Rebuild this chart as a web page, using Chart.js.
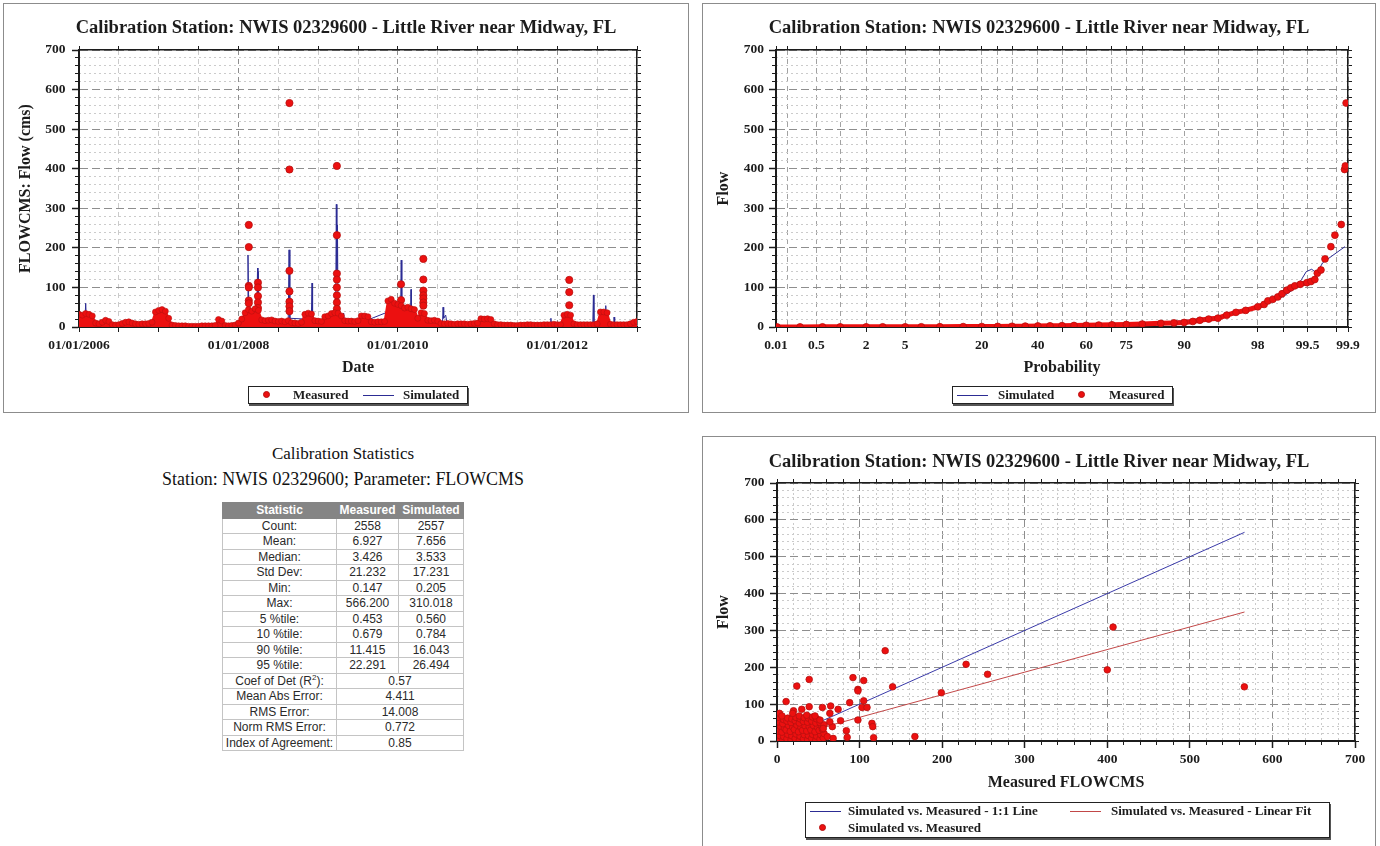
<!DOCTYPE html>
<html>
<head>
<meta charset="utf-8">
<title>Calibration Station: NWIS 02329600 - Little River near Midway, FL</title>
<script src="https://cdn.jsdelivr.net/npm/chart.js@4.4.1/dist/chart.umd.min.js"></script>
<style>
  html, body { margin: 0; padding: 0; background: #fff; width: 1380px; height: 846px; overflow: hidden; }
  .panel { position: absolute; border: 1px solid #8c8c8c; box-sizing: border-box; background: #fff; }
  .panel canvas { position: absolute; left: 0; top: 0; }
  .legend { position: absolute; border: 1px solid #222; box-shadow: 1px 2px 0 #555; background: #fff;
            box-sizing: border-box; font: bold 13px "Liberation Serif", "Times New Roman", serif; color: #1c1c1c; }
  .legend span { position: absolute; white-space: nowrap; line-height: 16px; }
  .legend .dot { width: 7px; height: 7px; border-radius: 50%; background: #ec1010; box-sizing: border-box; border: 1px solid #b8100f; }
  .legend .ln { height: 0; border-top: 1px solid #2c2c94; }
  .legend .ln.red { border-top-color: #c24848; }
  .stitle { position: absolute; left: 143px; width: 400px; text-align: center;
            font-family: "Liberation Serif", "Times New Roman", serif; line-height: 20px; color: #111; }
  #stats { position: absolute; left: 222px; top: 502px; width: 241px; border-collapse: collapse; table-layout: fixed;
           font: 12px "Liberation Sans", Arial, sans-serif; color: #2a2a2a; }
  #stats td, #stats th { border: 1px solid #c4c4c4; padding: 0; text-align: center; white-space: nowrap; line-height: 14px; }
  #stats tr { height: 15.5px; }
  #stats th { background: #858585; color: #fff; font-weight: bold; border-color: #858585; }
  #stats sup { font-size: 8px; line-height: 0; }
</style>
</head>
<body>

<div class="panel" style="left:3px;top:3px;width:686px;height:410px"><canvas id="tsChart" width="684" height="408"></canvas></div>
<div class="panel" style="left:702px;top:3px;width:674px;height:410px"><canvas id="probChart" width="672" height="408"></canvas></div>
<div class="panel" style="left:702px;top:436px;width:674px;height:420px"><canvas id="scatChart" width="672" height="408"></canvas></div>

<div class="legend" style="left:248px;top:386px;width:220px;height:18px">
  <span class="dot" style="left:14px;top:4px"></span><span style="left:44px;top:0">Measured</span>
  <span class="ln" style="left:114px;top:8px;width:31px"></span><span style="left:154px;top:0">Simulated</span>
</div>
<div class="legend" style="left:952px;top:386px;width:221px;height:18px">
  <span class="ln" style="left:4px;top:8px;width:31px"></span><span style="left:45px;top:0">Simulated</span>
  <span class="dot" style="left:125px;top:4px"></span><span style="left:156px;top:0">Measured</span>
</div>
<div class="legend" style="left:805px;top:802px;width:525px;height:36px">
  <span class="ln" style="left:4px;top:8px;width:31px"></span><span style="left:42px;top:0">Simulated vs. Measured - 1:1 Line</span>
  <span class="ln red" style="left:264px;top:8px;width:31px"></span><span style="left:305px;top:0">Simulated vs. Measured - Linear Fit</span>
  <span class="dot" style="left:13px;top:21px"></span><span style="left:42px;top:17px">Simulated vs. Measured</span>
</div>

<div class="stitle" style="top:444px;font-size:17px">Calibration Statistics</div>
<div class="stitle" style="top:469px;font-size:17.9px">Station: NWIS 02329600; Parameter: FLOWCMS</div>
<table id="stats">
  <colgroup><col style="width:114px"><col style="width:62px"><col style="width:65px"></colgroup>
  <thead><tr><th>Statistic</th><th>Measured</th><th>Simulated</th></tr></thead>
  <tbody></tbody>
</table>

<script>
// ---- time series: measured flow, semi-monthly from 01/01/2006 (cms) ----
const bandStartYear = 2006;
const bandPerYear = 24;
const measBand = [
  32, 30, 34, 32, 28, 10, 8, 12, 17, 14, 6, 5, 6, 9, 12, 13, 10, 8, 7, 8, 8, 9, 12, 38,     // 2006
  42, 44, 40, 22, 5, 4, 3, 3, 3, 2, 2, 2, 2, 3, 3, 3, 3, 4, 19, 15, 4, 3, 4, 5,             // 2007
  10, 20, 36, 44, 40, 46, 42, 18, 16, 17, 18, 15, 14, 15, 13, 16, 11, 10, 9, 12, 32, 35, 33, 16, // 2008
  15, 14, 26, 28, 34, 36, 35, 28, 16, 15, 15, 14, 16, 28, 28, 26, 13, 12, 13, 13, 14, 66, 70, 60, // 2009
  57, 54, 48, 50, 46, 44, 22, 36, 34, 17, 16, 17, 15, 9, 8, 9, 8, 7, 8, 8, 8, 7, 8, 9,      // 2010
  10, 21, 20, 21, 19, 8, 6, 6, 5, 5, 5, 4, 4, 5, 5, 6, 6, 5, 5, 5, 6, 6, 6, 7,              // 2011
  6, 6, 30, 32, 30, 8, 6, 6, 6, 6, 6, 6, 8, 38, 38, 36, 7, 6, 6, 6, 6, 6, 8, 12,            // 2012
  14                                                                                        // 2013
];
// storm days that stand out above the band
const measPeakYear = [2008.13, 2008.13, 2008.13, 2008.13, 2008.13, 2008.13,
  2008.245, 2008.245, 2008.245, 2008.245, 2008.245,
  2008.64, 2008.64, 2008.64, 2008.64, 2008.64, 2008.64, 2008.64,
  2009.235, 2009.235, 2009.235, 2009.235, 2009.235, 2009.235, 2009.235, 2009.235,
  2010.04, 2010.04,
  2010.32, 2010.32, 2010.32, 2010.32, 2010.32, 2010.32, 2010.32,
  2012.15, 2012.15, 2012.15];
const measPeakFlow = [258, 202, 104, 100, 67, 60,
  112, 100, 78, 62, 48,
  566, 398, 142, 90, 64, 52, 40,
  407, 232, 135, 120, 100, 80, 62, 46,
  108, 68,
  172, 120, 92, 80, 72, 62, 54,
  119, 88, 55];
const simYear = [2006.0, 2006.075, 2006.084, 2006.093, 2006.2, 2006.5, 2006.95, 2007.0, 2007.08, 2007.15,
  2007.7, 2008.0, 2008.11, 2008.12, 2008.13, 2008.23, 2008.24, 2008.245, 2008.25, 2008.26,
  2008.4, 2008.625, 2008.635, 2008.645, 2008.85, 2008.915, 2008.923, 2008.93, 2009.1, 2009.22,
  2009.228, 2009.235, 2009.242, 2009.25, 2009.31, 2009.32, 2009.33, 2009.5, 2009.9, 2010.035,
  2010.042, 2010.05, 2010.16, 2010.165, 2010.17, 2010.4, 2010.56, 2010.567, 2010.575, 2010.6,
  2010.62, 2011.1, 2011.915, 2011.92, 2011.925, 2012.1, 2012.445, 2012.453, 2012.46, 2012.6,
  2012.608, 2012.615, 2012.71, 2012.712, 2012.72, 2013.0];
const simFlow = [18, 20, 60, 20, 6, 4, 6, 30, 30, 3,
  2, 6, 30, 182, 40, 35, 149, 60, 140, 25,
  10, 20, 195, 22, 20, 25, 111, 22, 15, 40,
  310, 120, 258, 40, 12, 35, 12, 8, 40, 45,
  169, 40, 35, 95, 35, 8, 8, 50, 22, 30,
  5, 10, 4, 22, 4, 15, 5, 81, 5, 15,
  54, 15, 8, 25, 6, 6];
const dateGridYears = [2006, 2006.5, 2007, 2007.5, 2008, 2008.5, 2009, 2009.5, 2010, 2010.5, 2011, 2011.5, 2012, 2012.5, 2013];
const dateLabelYears = [2006, 2008, 2010, 2012];

// ---- flow duration: exceedance probability (%) vs flow ----
const measProbPct = [0.14, 0.3, 0.6, 1, 2, 3, 5, 7, 10, 15, 20, 25, 30, 35, 40, 45, 50, 55, 60, 65,
  70, 75, 80, 85, 88, 90, 91.5, 92.6, 93.8, 94.9, 95.8, 96.6, 97.3, 98, 98.3, 98.46, 98.65, 98.82, 98.95, 99.08,
  99.18, 99.27, 99.38, 99.49, 99.55, 99.6, 99.63, 99.67, 99.71, 99.76, 99.79, 99.83, 99.848, 99.852, 99.856];
const measProbFlow = [0.15, 0.25, 0.32, 0.38, 0.42, 0.44, 0.45, 0.55, 0.68, 0.95, 1.2, 1.5, 1.8, 2.2, 2.6, 3.0, 3.4, 3.8, 4.3, 4.9,
  5.5, 6.3, 7.5, 9.2, 10.3, 11.4, 14, 17, 20, 22.3, 30, 37, 42, 51, 57, 66, 70, 76, 84, 93,
  99, 104, 108, 112, 115, 120, 136, 144, 172, 203, 232, 259, 398, 407, 566];
const simProbPct = [0.14, 1, 5, 10, 20, 30, 40, 50, 60, 70, 80, 90, 95, 97, 98, 99, 99.3, 99.4, 99.48, 99.56, 99.62, 99.69, 99.85];
const simProbFlow = [0.2, 0.36, 0.56, 0.78, 1.3, 2.0, 2.7, 3.5, 4.6, 6.2, 9, 16, 26.5, 38, 48, 78, 100, 120, 140, 146, 136, 163, 203];
const probAxisMin = 0.135;
const probAxisMax = 99.865;
const probMajorPct = [0.135, 0.5, 2, 5, 20, 40, 60, 75, 90, 98, 99.5, 99.865];
const probMajorText = ['0.01', '0.5', '2', '5', '20', '40', '60', '75', '90', '98', '99.5', '99.9'];
const probMinorPct = [0.2, 1, 10, 25, 30, 50, 70, 80, 95, 99, 99.8];
const probDenseUpTo = 99.6;

// ---- simulated vs measured pairs (cms) ----
const scatterPairs = [
  [1, 4], [3, 15], [1, 27], [4, 40], [2, 52], [1, 64], [3, 75], [7, 2], [8, 12], [6, 24], [9, 35], [7, 47], [8, 58], [6, 68],
  [12, 6], [13, 18], [11, 30], [14, 42], [12, 54], [13, 62], [17, 3], [18, 14], [16, 26], [19, 38], [17, 50], [18, 60],
  [22, 7], [23, 19], [21, 31], [24, 43], [22, 55], [23, 64], [27, 2], [28, 13], [26, 25], [29, 37], [27, 49], [28, 60], [27, 68],
  [32, 6], [33, 17], [31, 29], [34, 41], [32, 53], [33, 63], [37, 3], [38, 15], [36, 27], [39, 39], [37, 51], [38, 62], [36, 70],
  [42, 7], [43, 18], [41, 30], [44, 42], [42, 54], [43, 65], [47, 2], [48, 13], [46, 25], [49, 37], [47, 49], [48, 60],
  [52, 5], [53, 17], [51, 29], [54, 40], [52, 50], [56, 8], [57, 20], [55, 32], [57, 44], [46, 68],
  [131, 245], [229, 208], [255, 181], [199, 131], [140, 147], [167, 12], [407, 309], [400, 193], [566, 147],
  [39, 167], [24, 149], [92, 172], [105, 164], [98, 140], [98, 136], [11, 107], [88, 104], [105, 109],
  [103, 91], [109, 91], [65, 95], [55, 91], [74, 86], [64, 75], [39, 93], [30, 86], [20, 82], [19, 75],
  [77, 55], [98, 57], [115, 48], [116, 39], [117, 9], [84, 28], [85, 10], [67, 39], [64, 52], [61, 12],
  [68, 7], [56, 34], [52, 57]
];
const oneToOne = [[0, 0], [566.2, 566.2]];
const linearFit = [[0, 3], [566.2, 350]];

const flowMajorTicks = [0, 100, 200, 300, 400, 500, 600, 700];
const flowMinorTicks = [0, 20, 40, 60, 80, 100, 120, 140, 160, 180, 200, 220, 240, 260, 280, 300, 320, 340,
  360, 380, 400, 420, 440, 460, 480, 500, 520, 540, 560, 580, 600, 620, 640, 660, 680, 700];

// ---- statistics table ----
const statNames = ['Count:', 'Mean:', 'Median:', 'Std Dev:', 'Min:', 'Max:', '5 %tile:', '10 %tile:', '90 %tile:', '95 %tile:'];
const statMeasured = ['2558', '6.927', '3.426', '21.232', '0.147', '566.200', '0.453', '0.679', '11.415', '22.291'];
const statSimulated = ['2557', '7.656', '3.533', '17.231', '0.205', '310.018', '0.560', '0.784', '16.043', '26.494'];
const fitNames = ['Coef of Det (R<sup>2</sup>):', 'Mean Abs Error:', 'RMS Error:', 'Norm RMS Error:', 'Index of Agreement:'];
const fitValues = ['0.57', '4.411', '14.008', '0.772', '0.85'];

const tbody = document.querySelector('#stats tbody');
statNames.forEach((name, i) => {
  tbody.insertAdjacentHTML('beforeend', '<tr><td>' + name + '</td><td>' + statMeasured[i] + '</td><td>' + statSimulated[i] + '</td></tr>');
});
fitNames.forEach((name, i) => {
  tbody.insertAdjacentHTML('beforeend', '<tr><td>' + name + '</td><td colspan="2">' + fitValues[i] + '</td></tr>');
});

// inverse standard normal (Acklam), used to place points on the probability axis
function probit(p) {
  const a = [-39.69683028665376, 220.9460984245205, -275.9285104469687, 138.3577518672690, -30.66479806614716, 2.506628277459239];
  const b = [-54.47609879822406, 161.5858368580409, -155.6989798598866, 66.80131188771972, -13.28068155288572];
  const c = [-0.007784894002430293, -0.3223964580411365, -2.400758277161838, -2.549732539343734, 4.374664141464968, 2.938163982698783];
  const d = [0.007784695709041462, 0.3224671290700398, 2.445134137142996, 3.754408661907416];
  const tail = q => (((((c[0] * q + c[1]) * q + c[2]) * q + c[3]) * q + c[4]) * q + c[5]) / ((((d[0] * q + d[1]) * q + d[2]) * q + d[3]) * q + 1);
  if (p < 0.02425) return tail(Math.sqrt(-2 * Math.log(p)));
  if (p > 1 - 0.02425) return -tail(Math.sqrt(-2 * Math.log(1 - p)));
  const q = p - 0.5, r = q * q;
  return (((((a[0] * r + a[1]) * r + a[2]) * r + a[3]) * r + a[4]) * r + a[5]) * q /
         (((((b[0] * r + b[1]) * r + b[2]) * r + b[3]) * r + b[4]) * r + 1);
}

const serif = '"Liberation Serif", "Times New Roman", serif';
const ink = '#1c1c1c';
const gridMajor = '#8e8e8e';
const gridMinor = '#cbcbcb';
const red = '#ec1010';
const redEdge = '#b8100f';
const navy = '#2c2c94';
const tickFont = { family: serif, size: 13.5, weight: 'bold' };
const axisTitleFont = { family: serif, size: 16, weight: 'bold' };

Chart.defaults.font.family = serif;

const fixed = size => s => { if (s.isHorizontal()) s.height = size; else s.width = size; };
const setTicks = values => s => { s.ticks = values.map(v => ({ value: v })); };

function chartTitle(padTop, padBottom) {
  return { display: true, text: 'Calibration Station: NWIS 02329600 - Little River near Midway, FL',
           font: { family: serif, size: 18.5, weight: 'bold' }, color: ink, padding: { top: padTop, bottom: padBottom } };
}

// labelled 0-700 flow axis with dashed major grid
function flowAxis(pos, text, size, titlePad, labelPad) {
  return {
    type: 'linear', position: pos, min: 0, max: 700, weight: 2,
    afterBuildTicks: setTicks(flowMajorTicks),
    ticks: { font: tickFont, color: ink, padding: labelPad, autoSkip: false, maxRotation: 0 },
    grid: { color: gridMajor, tickColor: ink, tickLength: 7, tickWidth: 1.5 },
    border: { color: ink, width: 2, dash: [8, 4] },
    title: { display: true, text: text, font: axisTitleFont, color: ink, padding: titlePad },
    afterFit: fixed(size)
  };
}
// unlabelled 20-step axis for the light dotted grid
function minorFlowAxis(pos) {
  return {
    type: 'linear', position: pos, min: 0, max: 700, weight: 1,
    afterBuildTicks: setTicks(flowMinorTicks),
    ticks: { display: false },
    grid: { color: ctx => (ctx.tick && ctx.tick.value % 100 === 0) ? 'rgba(0,0,0,0)' : gridMinor, tickColor: ink, tickLength: 4 },
    border: { display: false, dash: [2, 3] },
    afterFit: fixed(0)
  };
}
// top / right frame line with small tick marks; size reserves the margin beyond it
function edgeAxis(pos, min, max, values, size) {
  return {
    type: 'linear', position: pos, min: min, max: max,
    afterBuildTicks: setTicks(values),
    ticks: { display: false },
    grid: { drawOnChartArea: false, tickColor: ink, tickLength: 4 },
    border: { color: ink, width: 1.5 },
    afterFit: fixed(size || 0)
  };
}

const common = {
  responsive: false,
  animation: false,
  events: [],
  layout: { padding: 0 },
  plugins: { legend: { display: false }, tooltip: { enabled: false } }
};

// ---------- 1. time series ----------
new Chart(document.getElementById('tsChart'), {
  type: 'line',
  data: {
    datasets: [
      { label: 'Measured', data: measBand.map((q, i) => ({ x: bandStartYear + i / bandPerYear, y: q })),
        borderColor: red, borderWidth: 2, backgroundColor: red, fill: 'origin',
        pointRadius: 3, pointBackgroundColor: red, pointBorderColor: redEdge, pointBorderWidth: 0.6 },
      { label: 'Measured', data: measPeakYear.map((t, i) => ({ x: t, y: measPeakFlow[i] })), showLine: false,
        pointRadius: 3.6, pointBackgroundColor: red, pointBorderColor: redEdge, pointBorderWidth: 0.8 },
      { label: 'Simulated', data: simYear.map((t, i) => ({ x: t, y: simFlow[i] })),
        borderColor: navy, borderWidth: 1, pointRadius: 0, fill: false }
    ]
  },
  options: Object.assign({}, common, {
    plugins: Object.assign({}, common.plugins, { title: chartTitle(13.1, 10.7) }),
    scales: {
      x: {
        type: 'linear', position: 'bottom', min: 2006, max: 2013,
        afterBuildTicks: setTicks(dateGridYears),
        ticks: { font: tickFont, color: ink, padding: 5.9, autoSkip: false, maxRotation: 0,
                 callback: v => dateLabelYears.includes(v) ? '01/01/' + v : '' },
        grid: { color: ctx => (ctx.tick && dateLabelYears.includes(ctx.tick.value)) ? gridMajor : gridMinor,
                tickColor: ink, tickLength: 5 },
        border: { color: ink, width: 2, dash: [5, 4] },
        title: { display: true, text: 'Date', font: axisTitleFont, color: ink, padding: { top: 0, bottom: 34.4 } },
        afterFit: fixed(85)
      },
      xTop: edgeAxis('top', 2006, 2013, dateGridYears),
      y: flowAxis('left', 'FLOWCMS: Flow (cms)', 75, { top: 12.4, bottom: 0 }, 6.5),
      yMinor: minorFlowAxis('left'),
      yRight: edgeAxis('right', 0, 700, flowMinorTicks, 51)
    }
  })
});

// ---------- 2. probability plot ----------
const probAxisTicks = probMajorPct.map((p, i) => ({ z: probit(p / 100), text: probMajorText[i] }))
  .concat(probMinorPct.map(p => ({ z: probit(p / 100), text: '' })))
  .sort((a, b) => a.z - b.z);
const probTickZ = probAxisTicks.map(t => t.z);
const zDense = probit(probDenseUpTo / 100);

new Chart(document.getElementById('probChart'), {
  type: 'line',
  data: {
    datasets: [
      { label: 'Measured', data: measProbPct.map((p, i) => ({ x: probit(p / 100), y: measProbFlow[i] })),
        borderColor: red, borderWidth: 5, fill: false,
        segment: { borderColor: ctx => ctx.p1.parsed.x > zDense ? 'rgba(0,0,0,0)' : red },
        pointRadius: 3.4, pointBackgroundColor: red, pointBorderColor: redEdge, pointBorderWidth: 0.8 },
      { label: 'Simulated', data: simProbPct.map((p, i) => ({ x: probit(p / 100), y: simProbFlow[i] })),
        borderColor: navy, borderWidth: 1, pointRadius: 0, fill: false }
    ]
  },
  options: Object.assign({}, common, {
    plugins: Object.assign({}, common.plugins, { title: chartTitle(13.1, 10.7) }),
    scales: {
      x: {
        type: 'linear', position: 'bottom', min: probit(probAxisMin / 100), max: probit(probAxisMax / 100),
        afterBuildTicks: setTicks(probTickZ),
        ticks: { font: tickFont, color: ink, padding: 5.9, autoSkip: false, maxRotation: 0,
                 callback: (v, i) => probAxisTicks[i] ? probAxisTicks[i].text : '' },
        grid: { color: '#a2a2a2', tickColor: ink, tickLength: 5 },
        border: { color: ink, width: 2, dash: [5, 4] },
        title: { display: true, text: 'Probability', font: axisTitleFont, color: ink, padding: { top: 0, bottom: 34.4 } },
        afterFit: fixed(85)
      },
      xTop: edgeAxis('top', probit(probAxisMin / 100), probit(probAxisMax / 100), probTickZ),
      y: flowAxis('left', 'Flow', 73, { top: 11.4, bottom: 0 }, 5),
      yMinor: minorFlowAxis('left'),
      yRight: edgeAxis('right', 0, 700, flowMinorTicks, 27)
    }
  })
});

// ---------- 3. simulated vs measured ----------
new Chart(document.getElementById('scatChart'), {
  type: 'line',
  data: {
    datasets: [
      { label: 'Simulated vs. Measured', data: scatterPairs.map(p => ({ x: p[0], y: p[1] })), showLine: false,
        pointRadius: 3.3, pointBackgroundColor: red, pointBorderColor: redEdge, pointBorderWidth: 0.8 },
      { label: 'Simulated vs. Measured - 1:1 Line', data: oneToOne.map(p => ({ x: p[0], y: p[1] })),
        borderColor: '#3a3aa8', borderWidth: 1, pointRadius: 0, fill: false },
      { label: 'Simulated vs. Measured - Linear Fit', data: linearFit.map(p => ({ x: p[0], y: p[1] })),
        borderColor: '#c24848', borderWidth: 1, pointRadius: 0, fill: false }
    ]
  },
  options: Object.assign({}, common, {
    plugins: Object.assign({}, common.plugins, { title: chartTitle(13.9, 9.9) }),
    scales: {
      x: flowAxis('bottom', 'Measured FLOWCMS', 104, { top: 0, bottom: 52.4 }, 3.9),
      xMinor: minorFlowAxis('bottom'),
      xTop: edgeAxis('top', 0, 700, flowMinorTicks),
      y: flowAxis('left', 'Flow', 74, { top: 11.4, bottom: 0 }, 5.5),
      yMinor: minorFlowAxis('left'),
      yRight: edgeAxis('right', 0, 700, flowMinorTicks, 20)
    }
  })
});
</script>
</body>
</html>
